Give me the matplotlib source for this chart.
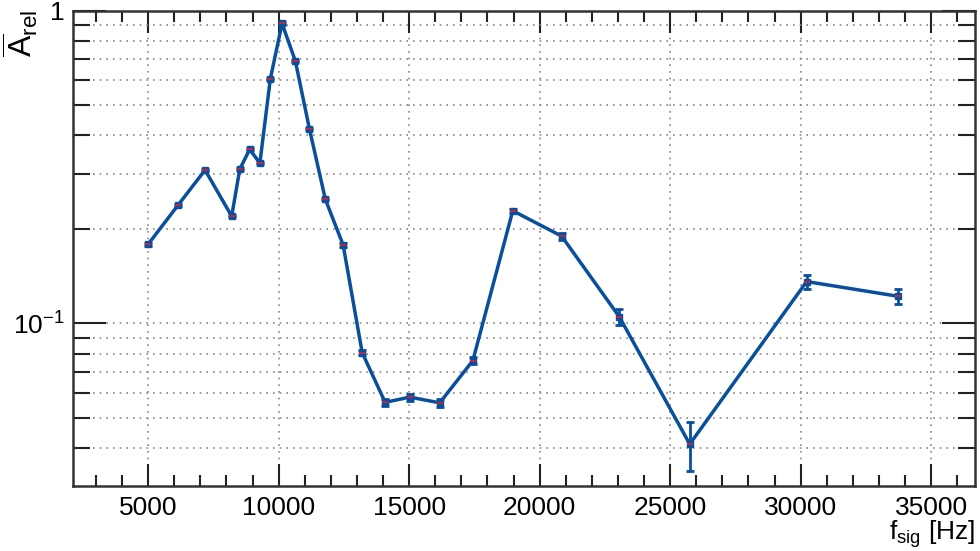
import matplotlib
matplotlib.use("Agg")
import matplotlib.pyplot as plt
from matplotlib.ticker import FixedLocator, MultipleLocator, LogLocator, NullFormatter, FixedFormatter

plt.rcParams['font.family'] = ['Liberation Sans', 'DejaVu Sans']
plt.rcParams['mathtext.fontset'] = 'custom'
plt.rcParams['mathtext.rm'] = 'Liberation Sans'
plt.rcParams['mathtext.it'] = 'Liberation Sans'

# signal frequency [Hz] and mean relative amplitude
f_sig = [5000, 6150, 7180, 8200, 8510, 8890, 9280, 9680, 10130, 10640,
         11180, 11790, 12470, 13200, 14080, 15030, 16170, 17440, 18970,
         20840, 23050, 25750, 30230, 33740]
a_rel = [0.179, 0.239, 0.309, 0.220, 0.311, 0.360, 0.325, 0.604, 0.909,
         0.689, 0.418, 0.249, 0.178, 0.0806, 0.0559, 0.0581, 0.0557,
         0.0760, 0.229, 0.190, 0.105, 0.0411, 0.136, 0.122]
a_err = [0.002, 0.002, 0.003, 0.002, 0.003, 0.003, 0.003, 0.005, 0.008,
         0.006, 0.004, 0.002, 0.002, 0.0015, 0.0015, 0.0015, 0.0015,
         0.002, 0.003, 0.005, 0.006, 0.0073, 0.007, 0.007]

blue = '#0a4f9c'

fig = plt.figure(figsize=(9.8, 5.51), dpi=100)
ax = fig.add_axes([73/980, 1 - 486/551, (975-73)/980, (486-10.5)/551])

ax.plot(f_sig, a_rel, '-', color=blue, lw=2.5, zorder=3)
ax.errorbar(f_sig, a_rel, yerr=a_err, fmt='s', color=blue, ms=4.5, elinewidth=2,
            capsize=3, capthick=2, zorder=4)
ax.plot(f_sig, a_rel, '_', color='#e0202a', ms=5, mew=1.2, zorder=5)

ax.set_yscale('log')
ax.set_xlim(2120, 36680)
ax.set_ylim(0.0302, 1.0)

ax.xaxis.set_major_locator(MultipleLocator(5000))
ax.xaxis.set_minor_locator(MultipleLocator(1000))
ax.yaxis.set_major_locator(FixedLocator([0.1, 1.0]))
ax.yaxis.set_major_formatter(FixedFormatter([r'$10^{-1}$', '1']))
ax.yaxis.set_minor_locator(LogLocator(base=10, subs=range(2, 10)))
ax.yaxis.set_minor_formatter(NullFormatter())

ax.tick_params(which='both', direction='in', top=True, right=True,
               labelsize=19, width=1.5, color='#222222')
ax.tick_params(axis='x', which='major', length=16, pad=7)
ax.tick_params(axis='x', which='minor', length=8)
ax.tick_params(axis='y', which='major', length=24, pad=6)
ax.tick_params(axis='y', which='minor', length=12)

ax.grid(True, which='major', axis='x', ls=(0, (1, 3)), color='#888888', lw=1.2)
ax.grid(True, which='both', axis='y', ls=(0, (1, 3)), color='#888888', lw=1.2)

for s in ax.spines.values():
    s.set_linewidth(1.8)
    s.set_color('#333333')

fig.text(975/980, 1 - 540/551, r'f$_{\mathrm{sig}}$ [Hz]', ha='right', va='baseline', fontsize=19)
fig.text(40/980, 1 - 10/551, r'$\overline{\mathrm{A}}_{\mathrm{rel}}$', ha='right', va='top',
         rotation=90, fontsize=23)

fig.savefig('out.png', dpi=100)
